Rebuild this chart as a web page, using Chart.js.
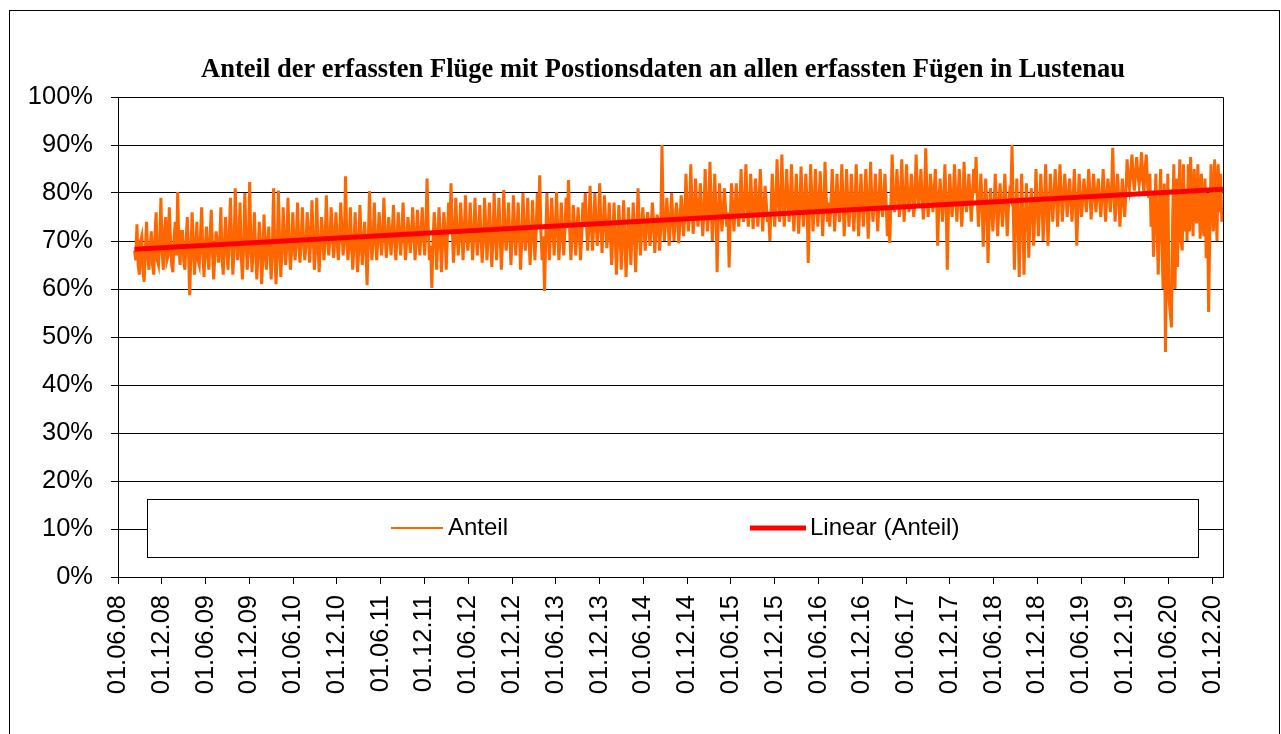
<!DOCTYPE html>
<html>
<head>
<meta charset="utf-8">
<script src="https://cdn.jsdelivr.net/npm/chart.js@4.4.1/dist/chart.umd.min.js"></script>
<style>
  body { margin: 0; background: #fff; }
  canvas { display: block; }
</style>
</head>
<body>
<canvas id="myChart" width="1281" height="734"></canvas>
<script>
var chartTitle = "Anteil der erfassten Flüge mit Postionsdaten an allen erfassten Fügen in Lustenau";
var seriesNames = ["Anteil", "Linear (Anteil)"];

var tickLabels = [
  "01.06.08", "01.12.08", "01.06.09", "01.12.09", "01.06.10", "01.12.10",
  "01.06.11", "01.12.11", "01.06.12", "01.12.12", "01.06.13", "01.12.13",
  "01.06.14", "01.12.14", "01.06.15", "01.12.15", "01.06.16", "01.12.16",
  "01.06.17", "01.12.17", "01.06.18", "01.12.18", "01.06.19", "01.12.19",
  "01.06.20", "01.12.20"
];

// one sample every 5 days, starting 09.08.2008 (values in %)
var startDate = "2008-08-09";
var stepDays = 5;
var anteil = [
  68, 66, 73.5, 65, 63, 70, 71, 64, 61.5, 68, 74, 67, 64, 69, 72, 65, 63, 71, 76, 66,
  65, 70, 79, 68, 64, 72, 75, 66, 67, 77, 70, 65, 63.5, 71, 74, 67, 80.2, 69, 65, 72,
  72, 66, 64, 70, 75, 68, 58.7, 67, 76, 70, 63, 68, 74, 66, 65, 71, 77, 67, 62.5, 69,
  73, 67, 64, 71, 76.5, 68, 62, 67, 72, 70, 65.5, 69, 77, 66, 63, 70, 75, 68, 64, 71,
  79, 70, 63, 68, 81, 72, 66, 70, 78, 67, 62, 69, 80, 71, 64, 68, 82.3, 70, 63.5, 69,
  76, 68, 62, 67, 74, 70, 61, 66, 75.5, 69, 64, 70, 73, 67, 62, 69, 81, 68, 61, 67,
  80.5, 70, 62.5, 68, 77, 71, 65, 69, 79, 70, 64, 68, 76, 70, 66, 71, 78, 69, 65.5, 70,
  77, 70, 66, 69, 76, 72, 65.5, 70, 78.5, 71, 64, 68, 79, 70, 63.5, 69, 75, 71, 66, 70,
  79.5, 71, 67, 70, 77, 72, 66.5, 70, 76, 70, 66, 71, 78, 72, 67, 70, 83.5, 71, 66, 69,
  77, 70, 64, 69, 76, 71, 63.5, 68, 77.5, 71, 65, 70, 74, 68, 60.8, 70, 80.4, 71, 66, 70,
  78, 71, 66, 70, 76, 72, 67, 71, 79, 72, 66.5, 70, 75, 71, 67, 72, 77.5, 70, 66, 71,
  76, 71, 67, 72, 78, 71, 66, 70, 75, 72, 67.5, 71, 77, 72, 66, 70, 76.5, 71, 67, 72,
  77, 71, 67, 72, 83, 73, 66, 69, 60.2, 70, 76, 72, 64, 70, 77, 71, 63.5, 70, 76, 72,
  64, 71, 78, 72, 82, 73, 65.5, 70, 79, 72, 67, 71, 78, 73, 66, 71, 79.5, 72, 68, 71,
  78, 72, 66, 71, 79, 72, 67, 72, 77.5, 71, 65.5, 70, 79, 73, 66, 71, 78, 72, 64.6, 70,
  80, 73, 66, 72, 79, 71, 64, 70, 80.6, 73, 68, 72, 78, 71, 65, 71, 79.5, 73, 67, 72,
  78, 72, 64, 70, 80, 73, 68, 72, 79, 71, 65, 71, 78.5, 72, 66, 72, 80, 73, 83.7, 72,
  66, 71, 59.6, 70, 80, 73, 66, 72, 79, 73, 67, 72, 80.2, 73, 66, 71, 78, 72, 67, 72,
  79, 73, 82.7, 72, 66, 71, 77.5, 73, 67, 72, 77, 72, 66, 71, 78, 73, 80, 74, 68, 73,
  81.5, 74, 68, 73, 80, 74, 69, 73, 82, 74, 67.5, 73, 79.5, 74, 68.5, 72, 78, 71, 65, 71,
  78, 71, 63, 70, 77.5, 72, 64, 70, 78.5, 71, 62.5, 69, 77, 72, 65, 71, 78, 72, 63.5, 71,
  81, 74, 67, 72, 77, 73, 68, 73, 76, 73, 69, 73, 78, 74, 67.5, 72, 75.5, 73, 68, 73,
  90, 75, 70, 74, 79, 75, 69, 74, 80, 75, 70, 74, 78, 75, 69.5, 74, 79.5, 76, 71, 75,
  84, 77, 72, 76, 86, 78, 71.5, 76, 83, 77, 73, 77, 82, 76, 71, 76, 85, 78, 72, 77,
  86.5, 78, 70, 76, 84, 77, 63.5, 75, 82, 77, 72, 76, 81, 77, 73, 76, 64.5, 75, 82, 77,
  72, 77, 82, 76, 73, 78, 85, 77, 74, 78, 86, 78, 73, 77, 84, 78, 72.5, 77, 83, 78,
  73, 78, 85, 78, 72, 77, 81.5, 78, 74, 76, 70, 77, 84, 78, 73, 78, 87, 79, 74, 78,
  88, 79, 73, 78, 85, 79, 74, 78, 86, 78, 72, 77, 84, 78, 71.5, 77, 85.5, 78, 73, 78,
  84, 78, 65.4, 76, 86, 79, 72, 77, 85, 78, 73, 78, 84.5, 78, 71, 77, 86.5, 79, 74, 78,
  73, 78, 85, 79, 72, 77, 84, 78, 74, 78, 86, 79, 71, 77, 85, 78, 73, 78, 84, 78,
  72, 77, 86, 79, 71, 77, 84, 78, 73, 78, 85, 79, 70.5, 77, 86.5, 79, 74, 78, 84, 78,
  72, 78, 85, 79, 75, 79, 84, 78, 71, 77, 69.6, 78, 88, 80, 76, 79, 85, 80, 75, 79,
  87, 80, 74, 79, 86, 80, 76, 79, 84, 80, 75, 79, 88, 81, 77, 80, 85, 79, 74.5, 79,
  89.3, 80, 75, 79, 84, 80, 76, 80, 85, 79, 69, 78, 83, 79, 74, 79, 86, 78, 64, 77,
  84, 79, 75, 79, 86, 80, 74, 79, 85, 79, 73, 78, 86.5, 80, 76, 79, 84, 79, 74, 79,
  85, 80, 87.5, 79, 73, 78, 84, 78, 68.8, 77, 83, 77, 65.4, 76, 81, 77, 72, 77, 84, 78,
  71, 77, 82, 78, 73, 78, 84, 78, 71, 77, 80, 79, 90, 77, 64, 75, 83, 74, 62.5, 74,
  84, 75, 63, 74, 82, 76, 66.5, 75, 81, 77, 69, 76, 85, 78, 71, 77, 84, 78, 70, 77,
  86, 78, 69, 77, 84, 79, 74, 79, 85, 80, 73, 79, 86, 80, 74, 79, 84, 80, 75, 79,
  83, 79, 74, 79, 85, 78, 69, 77, 84, 79, 75, 79, 83, 80, 76, 80, 85, 80, 74.5, 79,
  84, 80, 76, 80, 83, 79, 75, 79, 85, 80, 74, 79, 83, 80, 76, 80, 89.4, 80, 74, 79,
  84, 79, 73, 78, 83, 79, 75, 80, 87, 83, 81, 84, 88, 84, 80.5, 84, 87.5, 84, 81.7, 84,
  88.5, 83, 80, 85, 88, 82, 79, 84, 73, 80, 66.7, 76, 84, 72, 63, 78, 85, 70, 60, 82,
  46.9, 70, 84, 58, 55, 52, 75, 86, 60, 83, 64.6, 78, 87, 70, 68, 86, 72, 80, 70, 86,
  72, 87.5, 78, 71, 85, 76, 73.7, 86, 79, 70.5, 84, 75, 71, 83, 66.4, 80, 55.2, 72, 86, 78,
  72, 87, 79, 70, 86, 76, 84, 74, 77
];
// linear trend, value at first and last sample
var trend = [68.3, 80.8];

var orange = "#FF6600";
var red = "#FF0000";

var DAY = 86400000;
var baseTime = Date.UTC(2008, 5, 1);

function dayOf(label) {
  var p = label.split(".");
  return (Date.UTC(2000 + Number(p[2]), Number(p[1]) - 1, Number(p[0])) - baseTime) / DAY;
}

var startDay = (Date.parse(startDate) - baseTime) / DAY;
var lastDay = startDay + (anteil.length - 1) * stepDays;
var tickDays = tickLabels.map(dayOf);

var anteilPoints = anteil.map(function (v, i) {
  return { x: startDay + i * stepDays, y: v };
});
var trendPoints = [
  { x: startDay, y: trend[0] },
  { x: lastDay, y: trend[1] }
];

var framePlugin = {
  id: "frame",
  beforeDraw: function (chart) {
    var ctx = chart.ctx;
    ctx.save();
    ctx.fillStyle = "#fff";
    ctx.fillRect(0, 0, chart.width, chart.height);
    ctx.strokeStyle = "#000";
    ctx.lineWidth = 1;
    ctx.strokeRect(9.5, 10.5, 1270, 800);
    ctx.restore();
  },
  afterDatasetsDraw: function (chart) {
    var ctx = chart.ctx;
    var a = chart.chartArea;
    ctx.save();
    // plot border
    ctx.strokeStyle = "#000";
    ctx.lineWidth = 1;
    ctx.beginPath();
    ctx.moveTo(Math.round(a.left) + 0.5, Math.round(a.top) + 0.5);
    ctx.lineTo(Math.round(a.right) + 0.5, Math.round(a.top) + 0.5);
    ctx.lineTo(Math.round(a.right) + 0.5, Math.round(a.bottom) + 0.5);
    ctx.stroke();

    // legend box
    ctx.fillStyle = "#fff";
    ctx.fillRect(147, 499, 1051, 58);
    ctx.strokeRect(147.5, 499.5, 1051, 58);
    ctx.font = "24px 'Liberation Sans', Arial, sans-serif";
    ctx.textBaseline = "middle";
    ctx.fillStyle = "#000";

    ctx.strokeStyle = orange;
    ctx.lineWidth = 2;
    ctx.beginPath();
    ctx.moveTo(391, 528);
    ctx.lineTo(443, 528);
    ctx.stroke();
    ctx.fillText(seriesNames[0], 448, 528);

    ctx.strokeStyle = red;
    ctx.lineWidth = 5;
    ctx.beginPath();
    ctx.moveTo(750, 528);
    ctx.lineTo(806, 528);
    ctx.stroke();
    ctx.fillText(seriesNames[1], 810, 528);

    // title
    ctx.font = "bold 26.5px 'Liberation Serif', 'Times New Roman', serif";
    ctx.textAlign = "center";
    ctx.fillText(chartTitle, 663, 70);
    ctx.restore();
  }
};

new Chart("myChart", {
  type: "line",
  data: {
    datasets: [{
      label: seriesNames[0],
      data: anteilPoints,
      borderColor: orange,
      backgroundColor: orange,
      borderWidth: 3,
      pointRadius: 0,
      tension: 0,
      order: 1
    }, {
      label: seriesNames[1],
      data: trendPoints,
      borderColor: red,
      backgroundColor: red,
      borderWidth: 5,
      pointRadius: 0,
      tension: 0,
      order: 0
    }]
  },
  options: {
    responsive: false,
    animation: false,
    layout: { padding: { top: 97, right: 58, left: 0, bottom: 0 } },
    plugins: {
      legend: { display: false },
      title: { display: false },
      tooltip: { enabled: false }
    },
    scales: {
      x: {
        type: "linear",
        min: 0,
        max: lastDay,
        afterBuildTicks: function (scale) {
          scale.ticks = tickDays.map(function (d) { return { value: d }; });
        },
        afterFit: function (scale) { scale.height = 157; },
        grid: { drawOnChartArea: false, drawTicks: true, tickLength: 7, color: "#000" },
        border: { display: true, color: "#000" },
        ticks: {
          autoSkip: false,
          minRotation: 90,
          maxRotation: 90,
          padding: 11,
          color: "#000",
          font: { family: "'Liberation Sans', Arial, sans-serif", size: 25.5 },
          callback: function (value, index) { return tickLabels[index]; }
        }
      },
      y: {
        min: 0,
        max: 100,
        afterFit: function (scale) { scale.width = 118; },
        grid: { color: "#000", tickLength: 7 },
        border: { display: true, color: "#000" },
        ticks: {
          stepSize: 10,
          padding: 18,
          color: "#000",
          font: { family: "'Liberation Sans', Arial, sans-serif", size: 25.5 },
          callback: function (v) { return v + "%"; }
        }
      }
    }
  },
  plugins: [framePlugin]
});
</script>
</body>
</html>
